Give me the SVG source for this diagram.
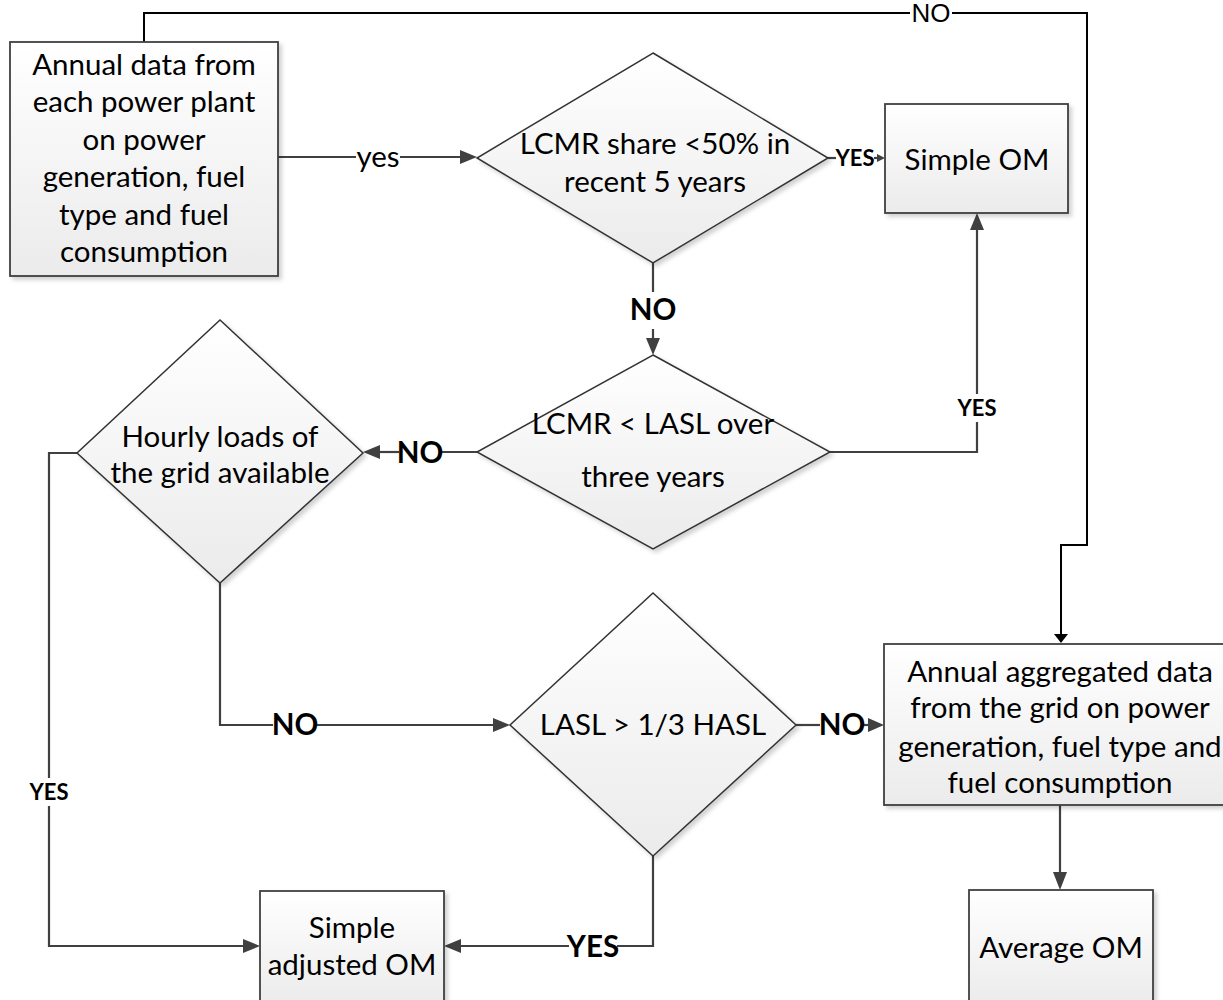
<svg xmlns="http://www.w3.org/2000/svg" width="1223" height="1000" viewBox="0 0 1223 1000">
<defs>
<linearGradient id="g" x1="0" y1="0" x2="0" y2="1">
<stop offset="0" stop-color="#ffffff"/>
<stop offset="1" stop-color="#ebebeb"/>
</linearGradient>
<filter id="sh" x="-5%" y="-5%" width="115%" height="115%">
<feDropShadow dx="3" dy="3" stdDeviation="2" flood-color="#000" flood-opacity="0.18"/>
</filter>
</defs>
<style>
.node{fill:url(#g);stroke:#404040;stroke-width:1.8;filter:url(#sh)}
.dia{fill:url(#g);stroke:#333;stroke-width:1.5;filter:url(#sh)}
.t{font-family:Lato,"Liberation Sans",sans-serif;font-size:29.5px;fill:#000;text-anchor:middle}
.lb{font-family:Lato,"Liberation Sans",sans-serif;font-size:29.5px;font-weight:bold;fill:#000;text-anchor:middle}
.ls{font-family:Lato,"Liberation Sans",sans-serif;font-size:22px;font-weight:bold;fill:#000;text-anchor:middle}
.tn{font-family:"Liberation Sans",Arial,sans-serif;font-size:26px;fill:#000;text-anchor:middle}
.c{fill:none;stroke:#404040;stroke-width:2.2}
.ck{fill:none;stroke:#000;stroke-width:2}
.a{fill:#404040}
.ak{fill:#000}
</style>
<g id="connectors">
<path class="ck" d="M144,42 V13 H910"/>
<path class="ck" d="M952,13 H1087 V545 H1061 V634"/>
<polygon class="ak" points="1061,643 1054,634 1068,634"/>
<text class="tn" x="931" y="22">NO</text>

<path class="c" d="M278,157 H356"/>
<path class="c" d="M400,157 H462"/>
<polygon class="a" points="477,157 460,150 460,164"/>
<text class="t" x="378" y="167">yes</text>

<path class="c" d="M828,158 H836"/>
<path class="c" d="M874,158 H878"/>
<polygon class="a" points="885,158 877,154 877,162"/>
<text class="ls" x="855" y="166">YES</text>

<path class="c" d="M653,263 V292"/>
<path class="c" d="M653,329 V340"/>
<polygon class="a" points="653,355 646,338 660,338"/>
<text class="lb" x="653" y="320">NO</text>

<path class="c" d="M830,452 H977 V422"/>
<path class="c" d="M977,394 V228"/>
<polygon class="a" points="977,213 970,230 984,230"/>
<text class="ls" x="977" y="416">YES</text>

<path class="c" d="M477,452 H442"/>
<path class="c" d="M399,452 H378"/>
<polygon class="a" points="363,452 380,445 380,459"/>
<text class="lb" x="420" y="463">NO</text>

<path class="c" d="M77,453 H49 V778"/>
<path class="c" d="M49,806 V946 H245"/>
<polygon class="a" points="260,946 243,939 243,953"/>
<text class="ls" x="49" y="800">YES</text>

<path class="c" d="M220,583 V725 H273"/>
<path class="c" d="M317,725 H495"/>
<polygon class="a" points="510,725 493,718 493,732"/>
<text class="lb" x="295" y="735">NO</text>

<path class="c" d="M796,725 H820"/>
<path class="c" d="M864,725 H870"/>
<polygon class="a" points="884,725 868,718 868,732"/>
<text class="lb" x="842" y="735">NO</text>

<path class="c" d="M653,856 V946 H617"/>
<path class="c" d="M569,946 H459"/>
<polygon class="a" points="444,946 461,939 461,953"/>
<text class="lb" x="593" y="957">YES</text>

<path class="c" d="M1060,805 V873"/>
<polygon class="a" points="1060,890 1053,872 1067,872"/>
</g>

<g id="n1">
<rect class="node" x="10" y="42" width="268" height="234"/>
<text class="t" x="144" y="75">Annual data from</text>
<text class="t" x="144" y="112">each power plant</text>
<text class="t" x="144" y="150">on power</text>
<text class="t" x="144" y="187">generation, fuel</text>
<text class="t" x="144" y="225">type and fuel</text>
<text class="t" x="144" y="262">consumption</text>
</g>
<g id="d1">
<polygon class="dia" points="653,53 828,158 653,263 477,158"/>
<text class="t" x="655" y="154">LCMR share &lt;50% in</text>
<text class="t" x="655" y="192">recent 5 years</text>
</g>
<g id="n2">
<rect class="node" x="885" y="104" width="183" height="109"/>
<text class="t" x="977" y="170">Simple OM</text>
</g>
<g id="d2">
<polygon class="dia" points="653,355 830,452 653,549 477,452"/>
<text class="t" x="653" y="434">LCMR &lt; LASL over</text>
<text class="t" x="653" y="487">three years</text>
</g>
<g id="d3">
<polygon class="dia" points="220,320 363,453 220,583 77,453"/>
<text class="t" x="220" y="447">Hourly loads of</text>
<text class="t" x="220" y="483">the grid available</text>
</g>
<g id="d4">
<polygon class="dia" points="653,593 796,725 653,856 510,725"/>
<text class="t" x="653" y="735">LASL &gt; 1/3 HASL</text>
</g>
<g id="n3">
<rect class="node" x="884" y="644" width="352" height="161"/>
<text class="t" x="1060" y="682">Annual aggregated data</text>
<text class="t" x="1060" y="718">from the grid on power</text>
<text class="t" x="1060" y="757">generation, fuel type and</text>
<text class="t" x="1060" y="793">fuel consumption</text>
</g>
<g id="n4">
<rect class="node" x="260" y="891" width="184" height="115"/>
<text class="t" x="352" y="938">Simple</text>
<text class="t" x="352" y="975">adjusted OM</text>
</g>
<g id="n5">
<rect class="node" x="969" y="890" width="184" height="116"/>
<text class="t" x="1061" y="958">Average OM</text>
</g>
</svg>
